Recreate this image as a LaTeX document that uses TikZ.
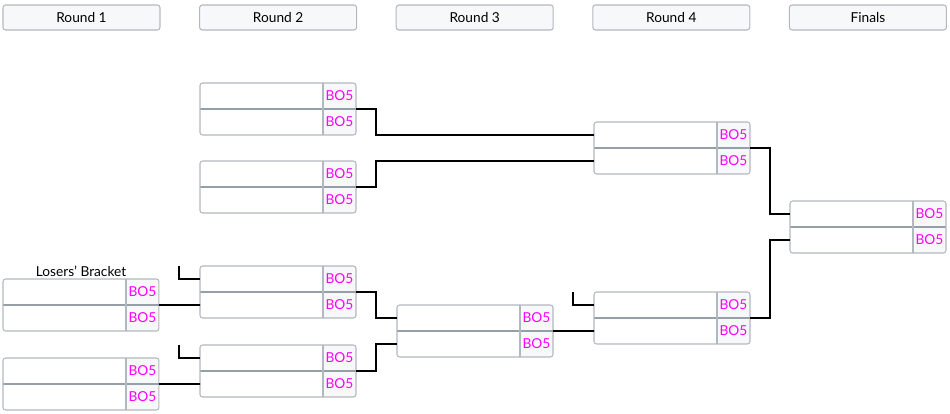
\documentclass[tikz,border=0pt]{standalone}
\usepackage{fontspec}
\setmainfont{Lato}
\usepackage{xcolor}
\usepackage{tikz}
\usetikzlibrary{positioning}

\definecolor{boxline}{RGB}{178,184,191}
\definecolor{midline}{RGB}{150,158,168}
\definecolor{cellfill}{RGB}{247,248,250}
\definecolor{bofive}{RGB}{255,0,255}

% one best-of-five match: name, x, y of top left corner
\newcommand{\bomatch}[3]{%
  \node[team, anchor=north west] (#1-t) at (#2,#3) {};
  \node[score, right=0pt of #1-t] (#1-ts) {BO5};
  \node[team, below=0pt of #1-t] (#1-b) {};
  \node[score, right=0pt of #1-b] (#1-bs) {BO5};
  \draw[rowline] (#1-t.south west) -- (#1-ts.south east);
  \draw[frame] (#1-ts.north west) -- (#1-bs.south west);
  \draw[frame, rounded corners=1.5pt] (#1-t.north west) rectangle (#1-bs.south east);
}

\begin{document}
\begin{tikzpicture}[x=0.02cm, y=-0.02cm,
  font=\fontsize{7.8}{9}\selectfont,
  head/.style={draw=boxline, fill=cellfill, rounded corners=1.5pt, line width=0.6pt,
    minimum width=3.14cm, minimum height=0.5cm, inner sep=0pt},
  team/.style={fill=white, minimum width=2.46cm, minimum height=0.52cm, inner sep=0pt, outer sep=0pt},
  score/.style={fill=cellfill, text=bofive, minimum width=0.66cm, minimum height=0.52cm,
    inner sep=0pt, outer sep=0pt},
  frame/.style={draw=boxline, line width=0.6pt},
  rowline/.style={draw=midline, line width=0.9pt},
  wire/.style={draw=black, line width=1.1pt}]

\useasboundingbox (0,0) rectangle (950,413);

% column titles
\foreach \i/\t in {0/Round 1, 1/Round 2, 2/Round 3, 3/Round 4, 4/Finals}{
	\node[head] (h\i) at (81.5+196.6*\i, 17.5) {\t};
}

% round 1 (losers)
\bomatch{r1a}{3}{279}
\bomatch{r1b}{3}{358}
\node[inner sep=0pt] (lb) at (81,271) {Losers' Bracket};

% round 2
\bomatch{r2a}{200}{83}
\bomatch{r2b}{200}{161}
\bomatch{r2c}{200}{266}
\bomatch{r2d}{200}{345}

% round 3
\bomatch{r3a}{397}{305}

% round 4
\bomatch{r4a}{594}{122}
\bomatch{r4b}{594}{292}

% finals
\bomatch{fin}{790}{201}

% connectors
\draw[wire] (r2a-ts.south east) -- ++(20,0) |- (r4a-t.west);
\draw[wire] (r2b-ts.south east) -- ++(20,0) |- (r4a-b.west);
\draw[wire] (r4a-ts.south east) -- ++(20,0) |- (fin-t.west);
\draw[wire] (r4b-ts.south east) -- ++(20,0) |- (fin-b.west);

\draw[wire] (r1a-ts.south east) -- (r2c-b.west);
\draw[wire] (r1b-ts.south east) -- (r2d-b.west);
\draw[wire] (r2c-ts.south east) -- ++(20,0) |- (r3a-t.west);
\draw[wire] (r2d-ts.south east) -- ++(20,0) |- (r3a-b.west);
\draw[wire] (r3a-ts.south east) -- (r4b-b.west);

% drop-in stubs
\draw[wire] (r2c-t.west) -- ++(-21,0) -- ++(0,-13);
\draw[wire] (r2d-t.west) -- ++(-21,0) -- ++(0,-13);
\draw[wire] (r4b-t.west) -- ++(-21,0) -- ++(0,-13);

\end{tikzpicture}
\end{document}
